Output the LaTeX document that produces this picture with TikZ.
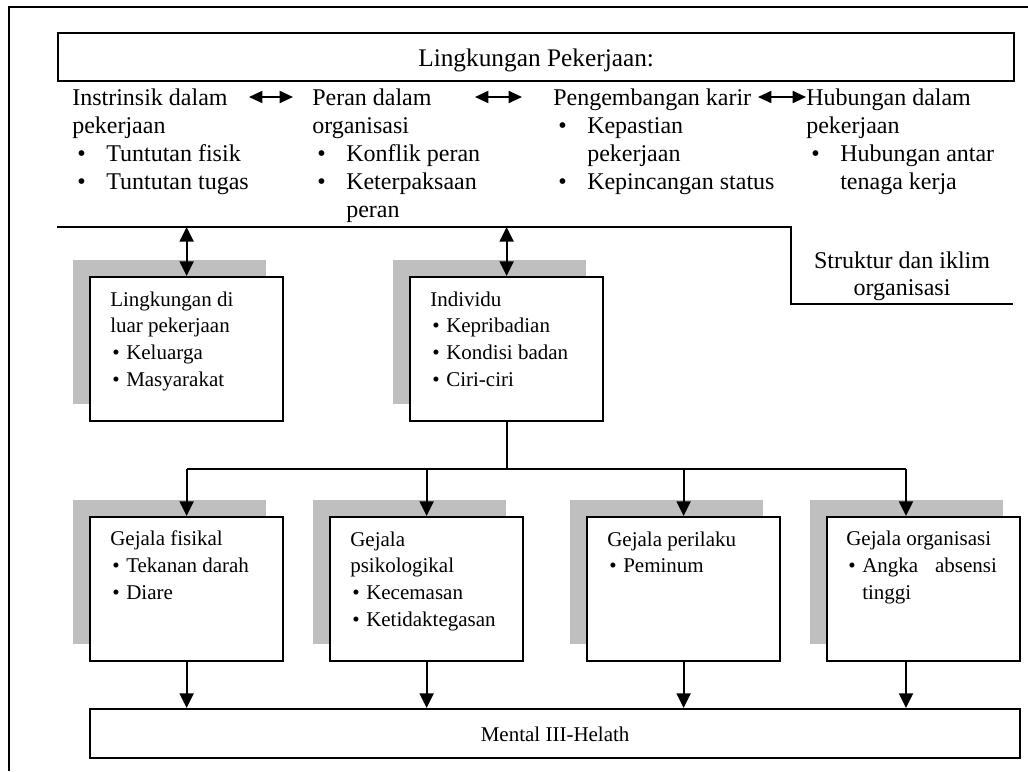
\documentclass[tikz,border=0pt]{standalone}
\usepackage{fontspec}
\setmainfont{Liberation Serif}
\usetikzlibrary{arrows.meta}

\newcommand{\butir}{\hspace*{3.75pt}\makebox[21.75pt][l]{\textbullet}}
\newcommand{\lanjut}{\hspace*{25.5pt}}
\newcommand{\bbutir}{\hspace*{1.5pt}\makebox[10.5pt][l]{\textbullet}}

\begin{document}
\begin{tikzpicture}[x=0.75pt,y=-0.75pt,
    garis/.style={line width=1.4pt},
    kotak/.style={draw,line width=1.7pt,fill=white,minimum width=144.75pt,
      minimum height=108pt,anchor=north west,inner sep=0pt},
    bayang/.style={fill=black!25},
    kolom/.style={align=left,anchor=base west,inner sep=0pt,
      font=\fontsize{18}{21}\selectfont},
    isi/.style={align=left,anchor=base west,inner sep=0pt,
      font=\fontsize{15.75}{20}\selectfont},
    panah/.style={line width=1.4pt,-{Triangle[length=11pt,width=10.5pt]}},
    panahdua/.style={line width=1.4pt,
      {Triangle[length=11pt,width=10.5pt]}-{Triangle[length=11pt,width=10.5pt]}},
    panahdatar/.style={line width=1.4pt,
      {Triangle[length=10pt,width=9pt]}-{Triangle[length=10pt,width=9pt]}}]
  \useasboundingbox (0,0) rectangle (1028,771);
  \draw[garis] (9,771) -- (9,7) -- (1028,7);

  \node[draw,line width=1.7pt,minimum width=717pt,minimum height=36pt,
    anchor=north west,inner sep=0pt,font=\fontsize{19}{22}\selectfont,
    text height=14.25pt,text depth=0pt] (kerja) at (57,32) {Lingkungan Pekerjaan:};

  % base anchor = baseline of the last line
  \node[kolom] (intrinsik) at (72,189)
    {Instrinsik dalam\\pekerjaan\\\butir Tuntutan fisik\\\butir Tuntutan tugas};
  \node[kolom] (peran) at (312,217)
    {Peran dalam\\organisasi\\\butir Konflik peran\\\butir Keterpaksaan\\\lanjut peran};
  \node[kolom] (karir) at (553,189)
    {Pengembangan karir\\\butir Kepastian\\\lanjut pekerjaan\\\butir Kepincangan status};
  \node[kolom] (hubungan) at (806,189)
    {Hubungan dalam\\pekerjaan\\\butir Hubungan antar\\\lanjut tenaga kerja};

  \coordinate (p1) at (249,97);
  \coordinate (q1) at (293,97);
  \coordinate (p2) at (475,97);
  \coordinate (q2) at (522,97);
  \coordinate (p3) at (758,97);
  \coordinate (q3) at (806,97);
  \draw[panahdatar] (p1) -- (q1);
  \draw[panahdatar] (p2) -- (q2);
  \draw[panahdatar] (p3) -- (q3);

  \coordinate (s1) at (57,227);
  \coordinate (s2) at (791,227);
  \coordinate (s3) at (791,304);
  \coordinate (s4) at (1013,304);
  \draw[garis] (s1) -- (s2) -- (s3) -- (s4);
  \node[font=\fontsize{18}{20.25}\selectfont,align=center,anchor=base,inner sep=0pt]
    (struktur) at (902,295) {Struktur dan iklim\\organisasi};

  \fill[bayang] (73,260) rectangle ++(193,144);
  \node[kotak] (luar) at (89,276) {};
  \node[isi] (luar-t) at (110,386)
    {Lingkungan di\\luar pekerjaan\\\bbutir Keluarga\\\bbutir Masyarakat};
  \fill[bayang] (393,260) rectangle ++(193,144);
  \node[kotak] (individu) at (409,276) {};
  \node[isi] (individu-t) at (430,386)
    {Individu\\\bbutir Kepribadian\\\bbutir Kondisi badan\\\bbutir Ciri-ciri};
  \draw[panahdua] (luar.north |- s1) -- (luar.north);
  \draw[panahdua] (individu.north |- s1) -- (individu.north);

  \fill[bayang] (73,500) rectangle ++(193,144);
  \node[kotak] (fisik) at (89,516) {};
  \node[isi] (fisik-t) at (110,599.3)
    {Gejala fisikal\\\bbutir Tekanan darah\\\bbutir Diare};
  \fill[bayang] (313,500) rectangle ++(193,144);
  \node[kotak] (psiko) at (329,516) {};
  \node[isi] (psiko-t) at (350,626)
    {Gejala\\psikologikal\\\bbutir Kecemasan\\\bbutir Ketidaktegasan};
  \fill[bayang] (570,500) rectangle ++(193,144);
  \node[kotak] (perilaku) at (586,516) {};
  \node[isi] (perilaku-t) at (607,572.7)
    {Gejala perilaku\\\bbutir Peminum};
  \fill[bayang] (810,500) rectangle ++(193,144);
  \node[kotak] (organisasi) at (826,516) {};
  \node[isi] (organisasi-t) at (846,599.3)
    {Gejala organisasi\\\bbutir\makebox[101pt][s]{Angka\hfill absensi}\\\hspace*{12pt}tinggi};

  \node[draw,line width=1.7pt,minimum width=697.5pt,minimum height=36.75pt,
    anchor=north west,inner sep=0pt,font=\fontsize{15.75}{18}\selectfont,
    text height=11.25pt,text depth=0pt] (mental) at (89,708) {Mental III-Helath};

  \coordinate (hub) at (185,469);
  \coordinate (hub4) at (906,469);
  \draw[garis] (individu.south) -- (individu.south |- hub);
  \draw[garis] (fisik.north |- hub) -- (hub4);
  \draw[panah] (fisik.north |- hub) -- (fisik.north);
  \draw[panah] (psiko.north |- hub) -- (psiko.north);
  \draw[panah] (perilaku.north |- hub) -- (perilaku.north);
  \draw[panah] (hub4) -- (hub4 |- organisasi.north);

  \draw[panah] (fisik.south) -- (fisik.south |- mental.north);
  \draw[panah] (psiko.south) -- (psiko.south |- mental.north);
  \draw[panah] (perilaku.south) -- (perilaku.south |- mental.north);
  \draw[panah] (hub4 |- organisasi.south) -- (hub4 |- mental.north);
\end{tikzpicture}
\end{document}
